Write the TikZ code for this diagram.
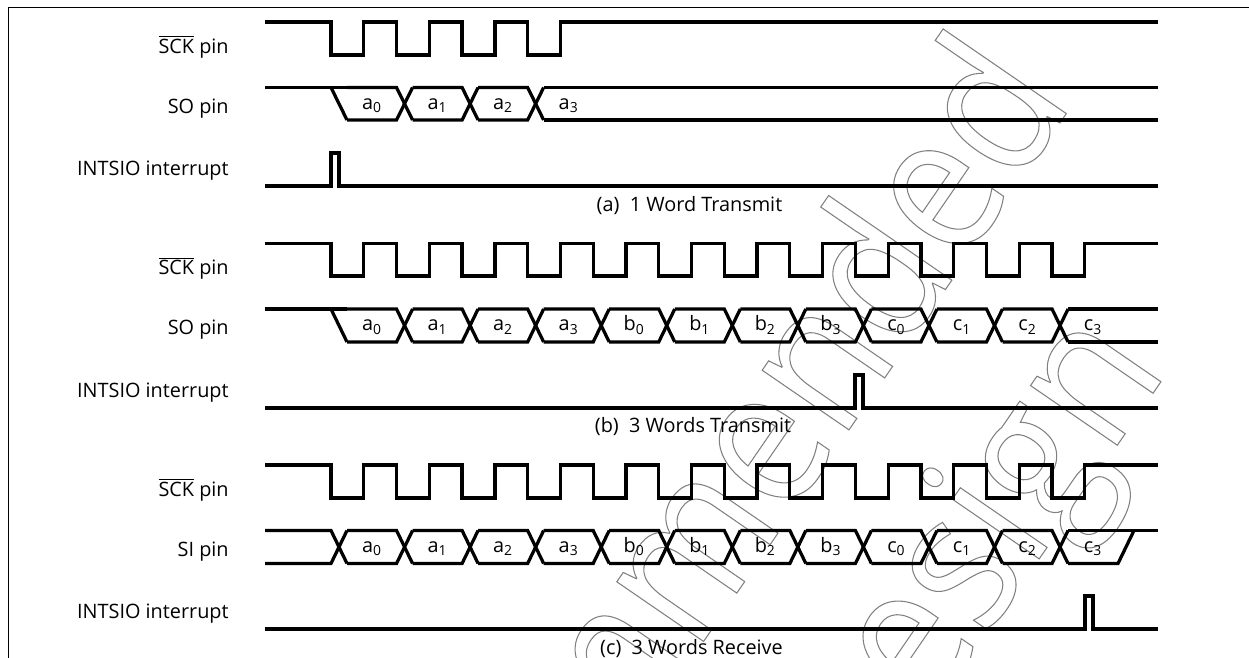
\documentclass[tikz,border=0pt]{standalone}
\usepackage{fontspec}
\setmainfont{Open Sans}
\newfontfamily\markfont[FakeStretch=0.875]{Open Sans}
\usetikzlibrary{calc}

\tikzset{
  wave/.style={line width=1.85pt, line join=miter},
  pinlabel/.style={anchor=base east, inner sep=0pt, font=\fontsize{11.3}{13}\selectfont},
  bitlabel/.style={anchor=base, inner sep=0pt, font=\fontsize{11.3}{13}\selectfont},
  caption/.style={anchor=base, inner sep=0pt, font=\fontsize{11.3}{13}\selectfont},
  markword/.style={rotate=55.5, anchor=base east, inner sep=0pt, text=black!50, font=\markfont\fontsize{112}{120}\selectfont}
}

\begin{document}
\begin{tikzpicture}[x=0.02cm, y=-0.02cm]
  \pgfmathsetmacro{\per}{65.55}
  \useasboundingbox (0,0) rectangle (1249,658);

  % watermark, outline letters only
  \begin{scope}
    \clip (0,0) rectangle (1249,658);
    \node[markword] (markone) at (1075,101)
      {\special{pdf:code 1 Tr 0.6 w}Not Recommended\special{pdf:code 0 Tr}};
    \node[markword] (marktwo) at (1169,370)
      {\special{pdf:code 1 Tr 0.6 w}for New Design\special{pdf:code 0 Tr}};
  \end{scope}

  % frame
  \draw[line width=1.1pt] (8.5,658) -- (8.5,7.5) -- (1249,7.5);

  % (a)
  \draw[wave] (265,22) -- (331,22)
    \foreach \k in {0,...,3} { -- ({331+\k*\per},22) -- ({331+\k*\per},55) -- ({331+(\k+0.5)*\per},55) -- ({331+(\k+0.5)*\per},22) }
    -- (1158,22);
  \draw[wave] (265,87.5) -- (347,87.5);
  \draw[wave] (331,87.5) -- (347,120);
  \foreach \k in {0,1,2} {
    \draw[wave] ({347+\k*\per},87.5) -- ({331+(\k+1)*\per},87.5) -- ({347+(\k+1)*\per},120);
    \draw[wave] ({347+\k*\per},120) -- ({331+(\k+1)*\per},120) -- ({347+(\k+1)*\per},87.5);
  }
  \draw[wave] ({347+3*\per},87.5) -- (1158,87.5);
  \draw[wave] ({347+3*\per},120) -- (1158,120);
  \draw[wave] (265,186) -- (331,186) -- (331,153) -- (339,153) -- (339,186) -- (1158,186);

  \node[pinlabel] (scka) at (229,53.5) {$\overline{\mbox{SCK}}$ pin};
  \node[pinlabel] (soa) at (229,113.5) {SO pin};
  \node[pinlabel] (inta) at (229,176) {INTSIO interrupt};
  \foreach \k/\t in {0/a\textsubscript{0},1/a\textsubscript{1},2/a\textsubscript{2},3/a\textsubscript{3}}
    \node[bitlabel] (bita\k) at ({372+\k*\per},109.5) {\t};
  \node[caption] (capa) at (689.5,211.5) {(a)\ \ 1 Word Transmit};

  % (b)
  \draw[wave] (265,243.5) -- (331,243.5)
    \foreach \k in {0,...,11} { -- ({331+\k*\per},243.5) -- ({331+\k*\per},276) -- ({331+(\k+0.5)*\per},276) -- ({331+(\k+0.5)*\per},243.5) }
    -- (1158,243.5);
  \draw[wave] (265,309) -- (347,309);
  \draw[wave] (331,309) -- (347,342);
  \foreach \k in {0,...,10} {
    \draw[wave] ({347+\k*\per},309) -- ({331+(\k+1)*\per},309) -- ({347+(\k+1)*\per},342);
    \draw[wave] ({347+\k*\per},342) -- ({331+(\k+1)*\per},342) -- ({347+(\k+1)*\per},309);
  }
  \draw[wave] ({347+11*\per},309) -- (1158,309);
  \draw[wave] ({347+11*\per},342) -- (1158,342);
  \draw[wave] (265,408) -- (855,408) -- (855,375) -- (863,375) -- (863,408) -- (1158,408);

  \node[pinlabel] (sckb) at (229,275) {$\overline{\mbox{SCK}}$ pin};
  \node[pinlabel] (sob) at (229,335) {SO pin};
  \node[pinlabel] (intb) at (229,397.5) {INTSIO interrupt};
  \foreach \k/\t in {0/a\textsubscript{0},1/a\textsubscript{1},2/a\textsubscript{2},3/a\textsubscript{3},4/b\textsubscript{0},5/b\textsubscript{1},6/b\textsubscript{2},7/b\textsubscript{3},8/c\textsubscript{0},9/c\textsubscript{1},10/c\textsubscript{2},11/c\textsubscript{3}}
    \node[bitlabel] (bitb\k) at ({372+\k*\per},331) {\t};
  \node[caption] (capb) at (693,433) {(b)\ \ 3 Words Transmit};

  % (c)
  \draw[wave] (265,465) -- (331,465)
    \foreach \k in {0,...,11} { -- ({331+\k*\per},465) -- ({331+\k*\per},498) -- ({331+(\k+0.5)*\per},498) -- ({331+(\k+0.5)*\per},465) }
    -- (1158,465);
  \draw[wave] (265,530.5) -- (331,530.5) -- (347,563.5);
  \draw[wave] (265,563.5) -- (331,563.5) -- (347,530.5);
  \foreach \k in {0,...,10} {
    \draw[wave] ({347+\k*\per},530.5) -- ({331+(\k+1)*\per},530.5) -- ({347+(\k+1)*\per},563.5);
    \draw[wave] ({347+\k*\per},563.5) -- ({331+(\k+1)*\per},563.5) -- ({347+(\k+1)*\per},530.5);
  }
  \draw[wave] ({347+11*\per},530.5) -- (1158,530.5);
  \draw[wave] ({347+11*\per},563.5) -- (1118,563.5) -- (1134,530.5);
  \draw[wave] (265,629) -- (1085,629) -- (1085,596) -- (1093,596) -- (1093,629) -- (1158,629);

  \node[pinlabel] (sckc) at (229,496.5) {$\overline{\mbox{SCK}}$ pin};
  \node[pinlabel] (sic) at (229,556.5) {SI pin};
  \node[pinlabel] (intc) at (229,619) {INTSIO interrupt};
  \foreach \k/\t in {0/a\textsubscript{0},1/a\textsubscript{1},2/a\textsubscript{2},3/a\textsubscript{3},4/b\textsubscript{0},5/b\textsubscript{1},6/b\textsubscript{2},7/b\textsubscript{3},8/c\textsubscript{0},9/c\textsubscript{1},10/c\textsubscript{2},11/c\textsubscript{3}}
    \node[bitlabel] (bitc\k) at ({372+\k*\per},552.5) {\t};
  \node[caption] (capc) at (691.5,654.5) {(c)\ \ 3 Words Receive};
\end{tikzpicture}
\end{document}
